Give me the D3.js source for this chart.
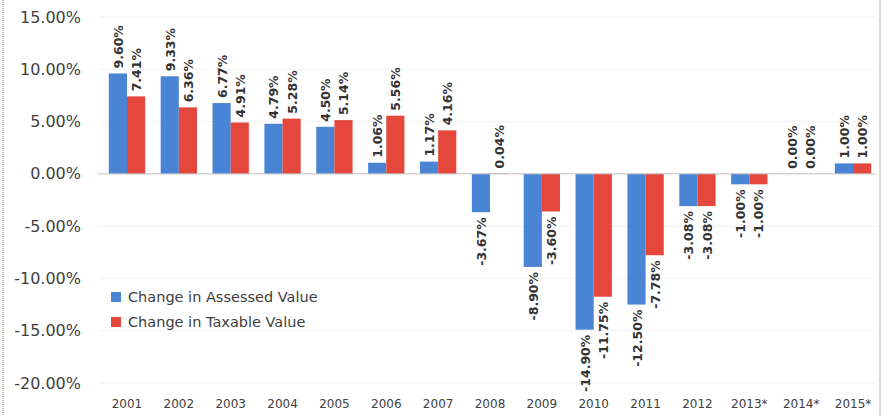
<!DOCTYPE html>
<html>
<head>
<meta charset="utf-8">
<script src="https://cdn.jsdelivr.net/npm/d3@7"></script>
<style>
  body { margin: 0; background: #fff; }
  text { font-family: "DejaVu Sans", "Liberation Sans", sans-serif; }
</style>
</head>
<body>
<div class="canvas"></div>
<script>
// Data
const years = ['2001', '2002', '2003', '2004', '2005', '2006', '2007', '2008',
    '2009', '2010', '2011', '2012', '2013*', '2014*', '2015*'];
const assessed = [9.60, 9.33, 6.77, 4.79, 4.50, 1.06, 1.17, -3.67,
    -8.90, -14.90, -12.50, -3.08, -1.00, 0.00, 1.00];
const taxable = [7.41, 6.36, 4.91, 5.28, 5.14, 5.56, 4.16, 0.04,
    -3.60, -11.75, -7.78, -3.08, -1.00, 0.00, 1.00];
const yTicks = [15, 10, 5, 0, -5, -10, -15, -20];
const seriesNames = ['Change in Assessed Value', 'Change in Taxable Value'];
const colors = ['#4a84d4', '#e5473d'];

// Dimensions
const dims = { width: 884, height: 416 };
const margin = { left: 100, right: 4, top: 0, bottom: 0 };

const svg = d3.select('.canvas')
    .append('svg')
    .attr('width', dims.width)
    .attr('height', dims.height);

// Scales
const y = d3.scaleLinear()
    .domain([-20, 15])
    .range([383, 17]);

const x = d3.scaleBand()
    .domain(years)
    .range([margin.left, dims.width - margin.right])
    .paddingInner(0.3)
    .paddingOuter(0.17);

const xSub = d3.scaleBand()
    .domain([0, 1])
    .range([0, x.bandwidth()]);

// Frame lines
svg.append('line')
    .attr('x1', 3).attr('x2', 3).attr('y1', 0).attr('y2', dims.height)
    .attr('stroke', '#b0a89a').attr('stroke-width', 1.5)
    .attr('stroke-dasharray', '1,1');
svg.append('line')
    .attr('x1', 880).attr('x2', 880).attr('y1', 0).attr('y2', dims.height)
    .attr('stroke', '#b8b8b8').attr('stroke-width', 1);

// Gridlines (very faint)
svg.append('g')
    .selectAll('line')
    .data(yTicks.filter(d => d !== 0))
    .enter()
    .append('line')
        .attr('x1', margin.left)
        .attr('x2', 876)
        .attr('y1', d => y(d))
        .attr('y2', d => y(d))
        .attr('stroke', '#f2f2f2');

// Y axis labels
const yAxis = d3.axisLeft(y)
    .tickValues(yTicks)
    .tickSize(0)
    .tickPadding(0)
    .tickFormat(d => d.toFixed(2) + '%');

svg.append('g')
    .attr('transform', 'translate(81,0)')
    .call(yAxis)
    .call(g => g.select('.domain').remove())
    .selectAll('text')
        .attr('font-size', 16)
        .attr('fill', '#404040');

// X axis labels
const xAxis = d3.axisBottom(x).tickSize(0).tickPadding(0);
svg.append('g')
    .attr('transform', 'translate(0,399)')
    .call(xAxis)
    .call(g => g.select('.domain').remove())
    .selectAll('text')
        .attr('font-size', 12)
        .attr('fill', '#404040');

// Bars
const series = [assessed, taxable];
series.forEach((vals, si) => {
    const g = svg.append('g');
    g.selectAll('rect')
        .data(vals)
        .enter()
        .append('rect')
            .attr('x', (d, i) => x(years[i]) + xSub(si))
            .attr('width', xSub.bandwidth())
            .attr('y', d => y(Math.max(0, d)))
            .attr('height', d => Math.abs(y(d) - y(0)))
            .attr('fill', colors[si]);

    // Value labels (rotated)
    g.selectAll('text')
        .data(vals)
        .enter()
        .append('text')
            .attr('transform', (d, i) => {
                const cx = x(years[i]) + xSub(si) + xSub.bandwidth() / 2;
                const yy = d >= 0 ? y(d) - 5 : y(d) + 5;
                return `translate(${cx + 5},${yy}) rotate(-90)`;
            })
            .attr('text-anchor', d => d >= 0 ? 'start' : 'end')
            .attr('font-size', 12.5)
            .attr('font-weight', 'bold')
            .attr('fill', '#333')
            .text(d => d.toFixed(2) + '%');
});

// Zero line
svg.append('line')
    .attr('x1', margin.left - 2)
    .attr('x2', 876)
    .attr('y1', y(0))
    .attr('y2', y(0))
    .attr('stroke', '#bfbfbf')
    .attr('stroke-width', 1);

// Legend
const legend = svg.append('g')
    .attr('transform', 'translate(111,292)');

legend.selectAll('rect')
    .data(seriesNames)
    .enter()
    .append('rect')
        .attr('x', 0)
        .attr('y', (d, i) => i * 25)
        .attr('width', 10)
        .attr('height', 10)
        .attr('fill', (d, i) => colors[i]);

legend.selectAll('text')
    .data(seriesNames)
    .enter()
    .append('text')
        .attr('x', 17)
        .attr('y', (d, i) => i * 25 + 10)
        .attr('font-size', 14.5)
        .attr('fill', '#404040')
        .text(d => d);
</script>
</body>
</html>
